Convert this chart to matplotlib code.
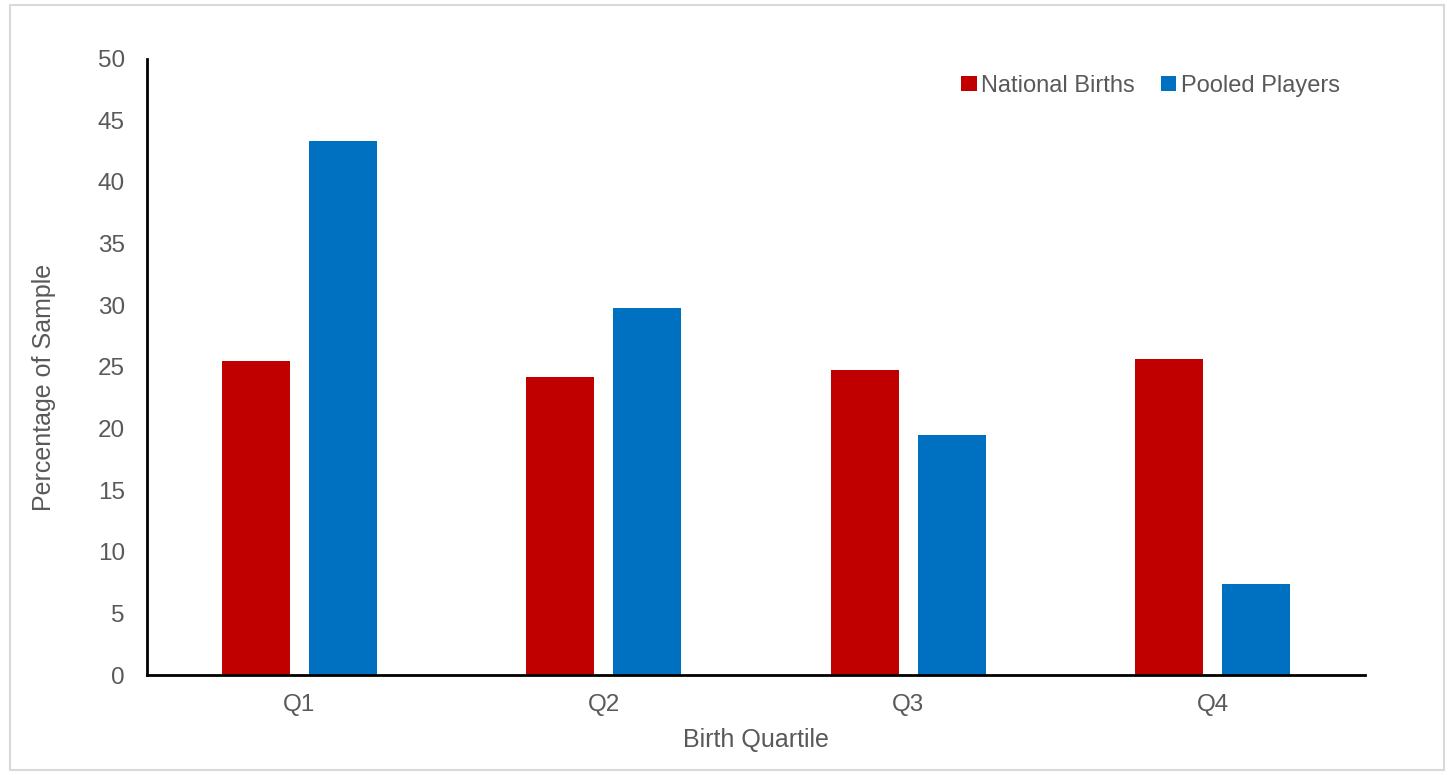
import matplotlib
matplotlib.use("Agg")
import matplotlib.pyplot as plt
import numpy as np
from matplotlib.patches import Rectangle

quartiles = ["Q1", "Q2", "Q3", "Q4"]
national_births = [25.5, 24.2, 24.7, 25.6]
pooled_players = [43.3, 29.8, 19.5, 7.4]

RED = "#c00000"
BLUE = "#0070c0"
GREY = "#595959"

plt.rcParams["font.family"] = ["Liberation Sans", "DejaVu Sans"]

fig = plt.figure(figsize=(14.5, 7.75), dpi=100)
ax = fig.add_axes([0.1014, 0.129, 0.84, 0.7955])

# chart frame around the whole figure
fig.patches.append(Rectangle((0.007, 0.006), 0.989, 0.988, transform=fig.transFigure,
                             fill=False, edgecolor="#d9d9d9", lw=1.5))

x = np.arange(len(quartiles))
w = 0.223
off = 0.143
ax.bar(x - off, national_births, width=w, color=RED, label="National Births")
ax.bar(x + off, pooled_players, width=w, color=BLUE, label="Pooled Players")

ax.set_xlim(-0.5, 3.5)
ax.set_ylim(0, 50)
ax.set_yticks(np.arange(0, 51, 5))
ax.set_xticks(x)
ax.set_xticklabels(quartiles)
ax.tick_params(length=0, labelsize=17.5, labelcolor=GREY)
ax.tick_params(axis="x", pad=14)
ax.tick_params(axis="y", pad=16)

for side in ("top", "right"):
    ax.spines[side].set_visible(False)
for side in ("left", "bottom"):
    ax.spines[side].set_color("black")
    ax.spines[side].set_linewidth(2)

ax.set_xlabel("Birth Quartile", fontsize=18, color=GREY, labelpad=8.5)
ax.set_ylabel("Percentage of Sample", fontsize=18, color=GREY)
ax.yaxis.set_label_coords(-0.0745, 0.466)

leg = ax.legend(loc="upper right", bbox_to_anchor=(0.997, 1.008), ncol=2, frameon=False,
                fontsize=17, handlelength=0.65, handleheight=0.65, handletextpad=0.2,
                columnspacing=1.1)
for t in leg.get_texts():
    t.set_color(GREY)

fig.savefig("out.png", dpi=100)
